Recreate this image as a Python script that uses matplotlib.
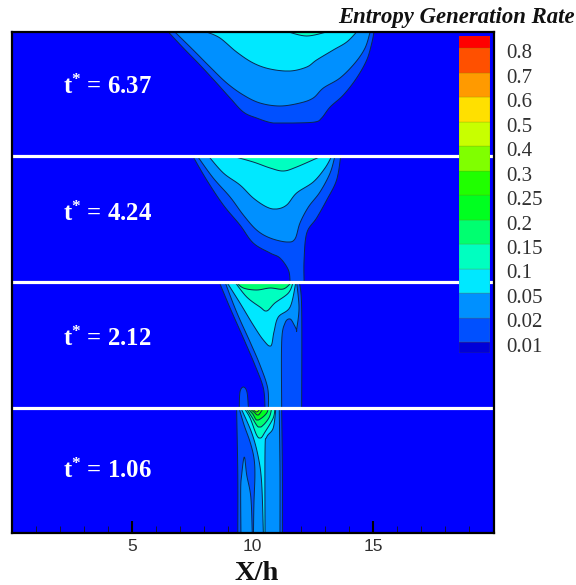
import numpy as np
import matplotlib
matplotlib.use('Agg')
import matplotlib.pyplot as plt

# colour of each contour band
col_a = '#0050ff'   # 0.01 - 0.02
col_b = '#0090ff'   # 0.02 - 0.05
col_c = '#00e8ff'   # 0.05 - 0.1
col_d = '#00ffc0'   # 0.1 - 0.15
col_e = '#00ff70'   # 0.15 - 0.2
col_f = '#00ff20'   # 0.2 - 0.25
col_g = '#20ff00'   # 0.25 - 0.3
col_h = '#80ff00'   # 0.3 - 0.4

# contour outlines, x is X/h, y is picture row
# t* = 6.37
p1_a_x = [6.51, 7.13, 7.82, 8.51, 9.07, 9.62, 10.17, 10.86, 11.69, 12.59, 12.87, 13.22, 13.77, 14.32, 14.74, 14.95, 15.04]
p1_a_y = [32, 48, 65, 83, 98, 112, 118, 123, 123, 122, 118, 107, 95, 78, 60, 43, 32]
p1_b_x = [6.78, 7.54, 8.24, 8.93, 9.62, 10.31, 11.14, 11.97, 12.52, 12.94, 13.63, 14.25, 14.67, 14.88]
p1_b_y = [32, 50, 67, 83, 95, 103, 106, 103, 98, 88, 78, 63, 48, 32]
p1_c_x = [8.10, 8.65, 9.34, 10.03, 10.73, 11.56, 12.25, 12.66, 13.35, 13.91, 14.32]
p1_c_y = [32, 38, 52, 63, 69, 71, 67, 60, 50, 42, 32]
p1_d_x = [11.49, 12.25, 13.08]
p1_d_y = [32, 36, 32]

# t* = 4.24
p2_a_x = [7.52, 8.10, 8.79, 9.48, 10.03, 10.73, 11.14, 11.49, 11.56, 11.56, 12.14, 12.14, 12.14, 12.25, 12.66, 13.08, 13.49, 13.66]
p2_a_y = [156, 180, 205, 225, 243, 253, 258, 270, 282, 282, 282, 282, 260, 233, 218, 200, 180, 156]
p2_b_x = [7.71, 8.37, 9.07, 9.62, 10.17, 10.73, 11.42, 11.76, 11.97, 12.32, 12.80, 13.22, 13.42]
p2_b_y = [156, 178, 197, 215, 230, 238, 242, 239, 223, 207, 192, 173, 156]
p2_c_x = [8.17, 8.79, 9.48, 10.03, 10.59, 11.00, 11.42, 11.83, 12.52, 13.01, 13.29]
p2_c_y = [156, 173, 185, 198, 207, 209, 205, 193, 182, 168, 156]
p2_d_x = [9.14, 10.03, 10.73, 11.28, 11.83, 12.87]
p2_d_y = [156, 162, 168, 171, 167, 156]

# t* = 2.12
p3_a_x = [8.62, 9.07, 9.62, 10.10, 10.45, 10.52, 10.52, 12.04, 12.04, 12.04, 11.94]
p3_a_y = [282, 308, 338, 365, 388, 408, 408, 408, 408, 308, 282]
p3_b_x = [8.86, 9.34, 9.90, 10.31, 10.63, 10.66, 10.66, 11.21, 11.21, 11.21, 11.35, 11.56, 11.73, 11.83, 11.83, 11.93, 11.83]
p3_b_y = [282, 312, 342, 365, 388, 408, 408, 408, 408, 342, 323, 319, 325, 330, 330, 308, 282]
p3_c_x = [8.93, 9.48, 10.03, 10.45, 10.76, 10.89, 11.07, 11.56, 11.80]
p3_c_y = [282, 303, 325, 340, 346, 332, 317, 307, 282]
p3_d_x = [9.27, 9.76, 10.31, 10.59, 10.93, 11.49, 11.69]
p3_d_y = [282, 297, 307, 311, 303, 293, 282]
p3_e_x = [9.32, 9.62, 10.17, 10.73, 11.28, 11.63]
p3_e_y = [282, 288, 290, 288, 289, 282]
p3_bump_x = [9.45, 9.48, 9.62, 9.77, 9.83]
p3_bump_y = [408, 392, 387, 392, 408]

# t* = 1.06
p4_a_x = [9.34, 9.34, 9.39, 9.39, 9.39, 11.24, 11.24, 11.24, 11.21]
p4_a_y = [408, 408, 475, 533, 533, 533, 533, 475, 408]
p4_b_x = [9.44, 9.65, 9.90, 10.06, 10.10, 10.06, 10.04, 10.04, 11.14, 11.14, 11.14, 11.11]
p4_b_y = [408, 425, 442, 458, 475, 503, 533, 533, 533, 533, 470, 408]
p4_tongue_x = [9.52, 9.52, 9.51, 9.55, 9.66, 9.76, 9.93, 9.99, 9.99]
p4_tongue_y = [533, 533, 490, 475, 457, 475, 497, 533, 533]
p4_c_x = [9.52, 9.97, 10.24, 10.38, 10.45, 10.45, 10.52, 10.52, 10.52, 10.59, 10.86, 10.97]
p4_c_y = [408, 433, 457, 483, 533, 533, 533, 533, 450, 437, 428, 408]
p4_d_x = [9.65, 9.90, 10.17, 10.34, 10.52, 10.86, 10.93]
p4_d_y = [408, 418, 435, 438, 432, 418, 408]
p4_e_x = [9.73, 9.97, 10.24, 10.45, 10.70, 10.80]
p4_e_y = [408, 417, 427, 425, 417, 408]
p4_f_x = [9.78, 10.01, 10.17, 10.38, 10.59, 10.66]
p4_f_y = [408, 414, 420, 418, 413, 408]
p4_g_x = [9.85, 10.06, 10.24, 10.45]
p4_g_y = [408, 412, 415, 408]
p4_h_x = [9.97, 10.17, 10.34]
p4_h_y = [408, 412, 408]

regions = [
    (p1_a_x, p1_a_y, col_a), (p1_b_x, p1_b_y, col_b), (p1_c_x, p1_c_y, col_c), (p1_d_x, p1_d_y, col_d),
    (p2_a_x, p2_a_y, col_a), (p2_b_x, p2_b_y, col_b), (p2_c_x, p2_c_y, col_c), (p2_d_x, p2_d_y, col_d),
    (p3_bump_x, p3_bump_y, col_a),
    (p3_a_x, p3_a_y, col_a), (p3_b_x, p3_b_y, col_b), (p3_c_x, p3_c_y, col_c), (p3_d_x, p3_d_y, col_d), (p3_e_x, p3_e_y, col_e),
    (p4_a_x, p4_a_y, col_a), (p4_tongue_x, p4_tongue_y, col_b), (p4_b_x, p4_b_y, col_b), (p4_c_x, p4_c_y, col_c),
    (p4_d_x, p4_d_y, col_d), (p4_e_x, p4_e_y, col_e), (p4_f_x, p4_f_y, col_f), (p4_g_x, p4_g_y, col_g), (p4_h_x, p4_h_y, col_h),
]

# panel separators and panel labels
line_rows = [156, 282, 408]
panel_labels = ['6.37', '4.24', '2.12', '1.06']
panel_label_rows = [87, 214, 339, 471]

# legend
cb_labels = ['0.01', '0.02', '0.05', '0.1', '0.15', '0.2', '0.25', '0.3', '0.4', '0.5', '0.6', '0.7', '0.8']
cb_colors = ['#0000d8', col_a, col_b, col_c, col_d, col_e, col_f, col_g, col_h,
             '#c8ff00', '#ffe000', '#ff9a00', '#ff5000', '#ff0000']
cb_heights = [0.45] + [1] * 12 + [0.5]

def smooth(xs, ys, n=8):
    # catmull-rom through the read points. repeat a point to keep a sharp corner
    pts = np.column_stack([xs, ys]).astype(float)
    pts = np.vstack([pts[:1], pts, pts[-1:]])
    t = np.linspace(0, 1, n, endpoint=False)[:, None]
    out = []
    for i in range(1, len(pts) - 2):
        p0, p1, p2, p3 = pts[i - 1], pts[i], pts[i + 1], pts[i + 2]
        out.append(0.5 * (2 * p1 + (p2 - p0) * t + (2 * p0 - 5 * p1 + 4 * p2 - p3) * t ** 2
                          + (3 * p1 - p0 - 3 * p2 + p3) * t ** 3))
    out.append(pts[-1:])
    out = np.vstack(out)
    # the curve may not leave its panel
    return out[:, 0], np.clip(out[:, 1], min(ys), max(ys))

W = 576.0
H = 585.0
plt.rcParams['font.family'] = 'Liberation Sans'
plt.rcParams['mathtext.fontset'] = 'custom'
plt.rcParams['mathtext.bf'] = 'Liberation Serif:bold'
plt.rcParams['mathtext.rm'] = 'Liberation Serif'

fig = plt.figure(figsize=(W / 100, H / 100), dpi=100)
ax = fig.add_axes([11.5 / W, 1 - 533 / H, 482 / W, 501 / H])
ax.set_facecolor('#0000ff')

for xs, ys, c in regions:
    sx, sy = smooth(xs, ys)
    ax.fill(sx, sy, facecolor=c, edgecolor='#0a2a50', linewidth=0.7, zorder=2)

for r in line_rows:
    ax.axhline(r, color='white', linewidth=2.3, zorder=3)

ax.set_xlim(0, 20)
ax.set_ylim(533, 32)
ax.set_yticks([])
ax.set_xticks([5, 10, 15])
ax.set_xticks(np.arange(1, 20), minor=True)
ax.tick_params(axis='x', which='major', direction='in', length=8.5, width=1.5, pad=4.5, labelsize=12.5, color='black', labelcolor='#303030')
ax.tick_params(axis='x', which='minor', direction='in', length=5, width=0.7, color='#101040')
for s in ax.spines.values():
    s.set_linewidth(1.6)
    s.set_zorder(6)

for lab, r in zip(panel_labels, panel_label_rows):
    ax.text(2.14, r, r'$\mathbf{t^{*}}$' + ' = ' + lab, color='white', fontsize=17.8, fontweight='bold',
            family='Liberation Serif', va='center', ha='left', zorder=5)

fig.text(257 / W, 1 - 573 / H, 'X/h', fontsize=20.5, fontweight='bold', family='Liberation Serif', ha='center', va='center', color='#111111')
fig.text(575 / W, 1 - 17 / H, 'Entropy Generation Rate', fontsize=16.4, fontweight='bold', style='italic',
         family='Liberation Serif', ha='right', va='center', color='#111111')

# legend sits over the plot, one box per band
cax = fig.add_axes([459 / W, 1 - 353 / H, 31 / W, 317 / H])
bottom = 0
bottoms = []
for h in cb_heights:
    bottoms.append(bottom)
    bottom += h
cax.bar(0, cb_heights, bottom=bottoms, width=1, align='edge', color=cb_colors, edgecolor='#808000', linewidth=0.15)
cax.set_xlim(0, 1)
cax.set_ylim(0, bottom)
cax.set_xticks([])
cax.yaxis.tick_right()
cax.set_yticks(np.arange(len(cb_labels)) + 0.45 - 0.12)
cax.set_yticklabels(cb_labels, family='Liberation Serif', fontsize=15, color='#303030')
cax.tick_params(axis='y', length=0, pad=11.5)
for s in cax.spines.values():
    s.set_visible(False)

fig.savefig('out.png', dpi=100)
